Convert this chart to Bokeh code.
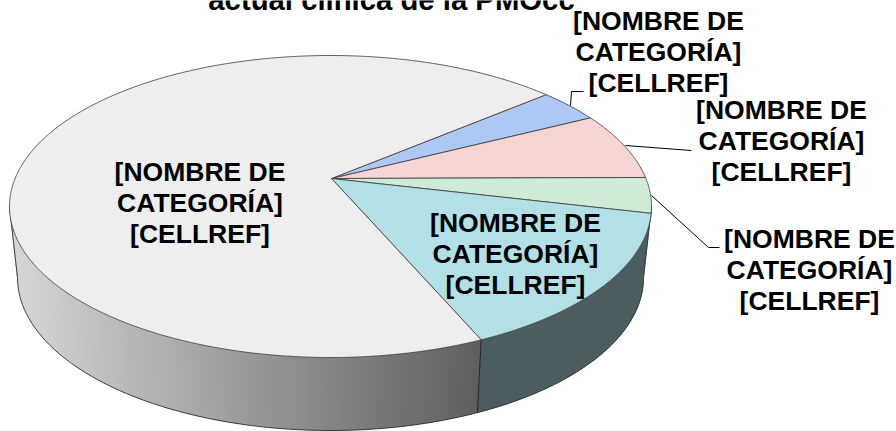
import numpy as np
from bokeh.plotting import figure
from bokeh.models import Range1d
from bokeh.core.properties import value
from bokeh.embed import file_html
from bokeh.resources import INLINE

categories = ["azul", "rosa", "verde", "turquesa", "gris"]
values = [3.3, 6.9, 3.8, 16.5, 69.5]
colors = ["#aec8f5", "#f6d5d5", "#cfebd6", "#b2e0e6", "#eeeeee"]
label_text = ["[NOMBRE DE", "CATEGORÍA]", "[CELLREF]"]
title_text = "actual clínica de la PMOcc"

START = 47.8
APEX = (331, 178)
TOP = (330, 206, 321, 151)
BOT = (330, 277, 313, 153)
WALL_TEAL = "#4c5d60"
FF = value("Liberation Sans")


def ell(e, t):
    t = np.radians(t)
    return e[0] + e[2] * np.cos(t), e[1] - e[3] * np.sin(t)


def shade(x):
    f = np.clip((x - 15) / (480 - 15), 0, 1)
    g = int(round(212 + (94 - 212) * f))
    return f"#{g:02x}{g:02x}{g:02x}"


p = figure(width=896, height=431, output_backend="svg", toolbar_location=None,
           x_range=Range1d(0, 896), y_range=Range1d(431, 0), min_border=0,
           x_axis_location=None, y_axis_location=None, outline_line_color=None)
p.grid.visible = False

# angular limits of each slice, running clockwise from START
bounds = START - 3.6 * np.concatenate([[0], np.cumsum(values)])
grey_b = bounds[4]

# side wall: grey slice as strips, shaded along x; each overlaps the next
xs, ys, cs = [], [], []
end = 360 + grey_b
for t in np.arange(180, end, 0.75):
    a, b = t, min(t + 2.0, end)
    x0, y0 = ell(TOP, a)
    x1, y1 = ell(TOP, b)
    x2, y2 = ell(BOT, b)
    x3, y3 = ell(BOT, a)
    xs.append([x0, x1, x2, x3])
    ys.append([y0, y1, y2, y3])
    cs.append(shade(x0))
p.patches(xs, ys, fill_color=cs, line_color=None)

# side wall: turquoise slice
tw = np.linspace(grey_b, 0, 60)
tx, ty = ell(TOP, tw)
bx, by = ell(BOT, tw[::-1])
p.patch(np.r_[tx, bx], np.r_[ty, by], fill_color=WALL_TEAL, line_color=WALL_TEAL, line_width=0.6)

# wall outlines
tb = np.linspace(180, 360, 180)
p.line(*ell(BOT, tb), line_color="#303030", line_width=0.9)
for t in (180, 0):
    a = ell(TOP, t)
    b = ell(BOT, t)
    p.line([a[0], b[0]], [a[1], b[1]], line_color="#303030", line_width=0.9)
a = ell(TOP, grey_b)
b = ell(BOT, grey_b)
p.line([a[0], b[0]], [a[1], b[1]], line_color="#202020", line_width=0.9)

# top face
for i, c in enumerate(colors):
    t = np.linspace(bounds[i], bounds[i + 1], max(3, int(abs(values[i]) * 8)))
    ex, ey = ell(TOP, t)
    p.patch(np.r_[APEX[0], ex], np.r_[APEX[1], ey], fill_color=c,
            line_color="#3a3a3a", line_width=0.8)

# leader lines
leaders = [([570, 571, 583], [105, 91, 91]),
           ([625, 691, 691], [145, 150, 150]),
           ([651, 708, 719], [195, 247, 247])]
for lx, ly in leaders:
    p.line(lx, ly, line_color="#000000", line_width=1)

# labels
anchors = [(199.5, 171), (658, 20), (781, 109), (515, 222), (809, 238)]
lead = 31
for cx, by0 in anchors:
    p.text([cx] * 3, [by0, by0 + lead, by0 + 2 * lead], text=label_text,
           text_font=FF, text_font_style="bold", text_font_size="26.5px",
           text_color="#000000", text_align="center", text_baseline="alphabetic")

p.text([391], [-1], text=[title_text], text_font=FF, text_font_style="bold",
       text_font_size="29.3px", text_color="#000000", text_align="center",
       text_baseline="alphabetic")

open("out.html", "w").write(file_html(p, INLINE))
